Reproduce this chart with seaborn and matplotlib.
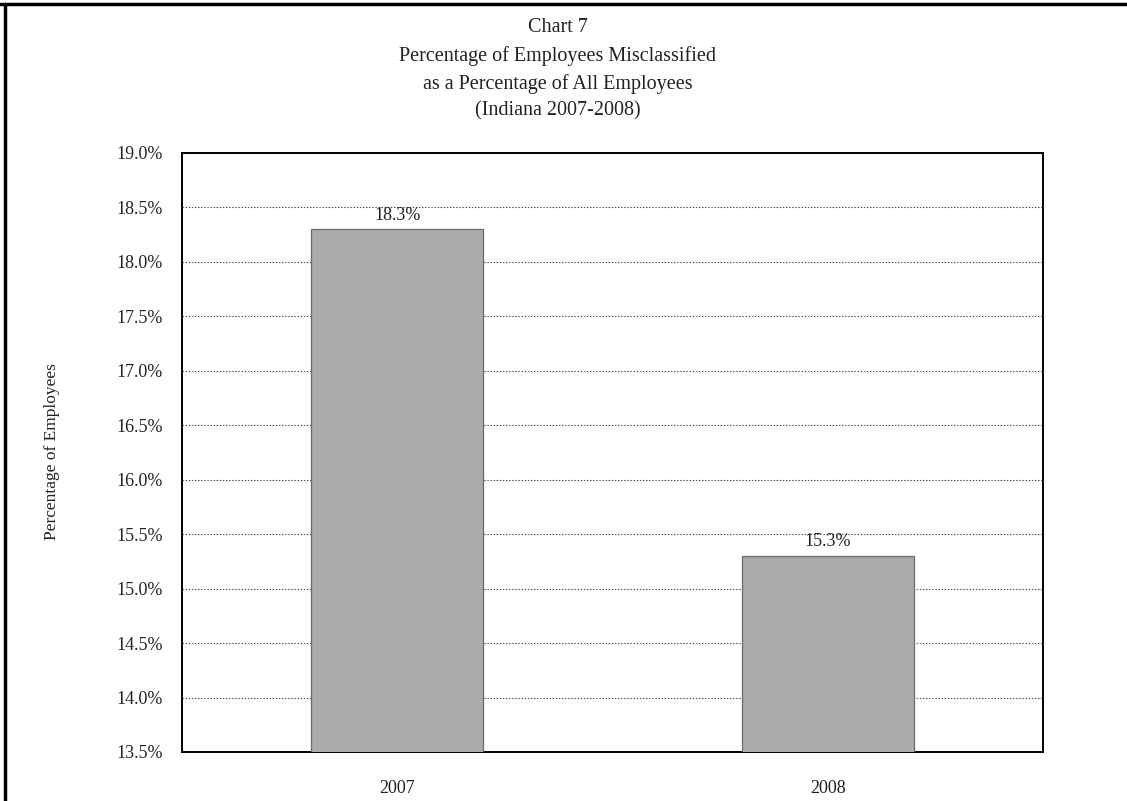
import matplotlib
matplotlib.use("Agg")
import matplotlib.pyplot as plt
from matplotlib.lines import Line2D
from matplotlib.ticker import FuncFormatter, MultipleLocator
import seaborn as sns
import pandas as pd

# Data
years = ["2007", "2008"]
pct_misclassified = [18.3, 15.3]
title_lines = [
    "Chart 7",
    "Percentage of Employees Misclassified",
    "as a Percentage of All Employees",
    "(Indiana 2007-2008)",
]
y_label = "Percentage of Employees"

sns.set_theme(style="white")
plt.rcParams["font.family"] = ["Liberation Serif", "DejaVu Serif"]

W, H = 1127, 801
fig = plt.figure(figsize=(W / 100, H / 100), dpi=100)

# Plot area in pixel coordinates
left, right, top, bottom = 182, 1043, 153, 752
ax = fig.add_axes([left / W, 1 - bottom / H, (right - left) / W, (bottom - top) / H])

df = pd.DataFrame({"year": years, "pct": pct_misclassified})
sns.barplot(data=df, x="year", y="pct", order=years, color="#ababab",
            saturation=1, width=0.4, edgecolor="#6a6a6a", linewidth=0.9,
            ax=ax, zorder=3)

ax.set_ylim(13.5, 19.0)
ax.set_xlim(-0.5, 1.5)
ax.yaxis.set_major_locator(MultipleLocator(0.5))
ax.yaxis.set_major_formatter(FuncFormatter(lambda v, _: f"{v:.1f}%"))
ax.grid(axis="y", color="#444444", linestyle=(0, (1.2, 1.6)), linewidth=0.8, zorder=0)
ax.grid(axis="x", visible=False)
ax.set_axisbelow(True)

for s in ax.spines.values():
    s.set_visible(True)
    s.set_color("black")
    s.set_linewidth(1.4)

ax.tick_params(axis="y", labelsize=13, length=0, pad=14, colors="#222222")
ax.tick_params(axis="x", labelsize=13, length=0, pad=20, colors="#222222")
ax.set_xlabel("")
ax.set_ylabel("")

# Y-axis title
fig.text(52 / W, 1 - 452 / H, y_label, rotation=90, ha="center", va="center",
         fontsize=12.5, color="#222222")

# Value labels above each bar
for container in ax.containers:
    ax.bar_label(container, labels=[f"{v:.1f}%" for v in pct_misclassified],
                 padding=4, fontsize=13, color="#222222")

# Title block
for i, (line, ypx) in enumerate(zip(title_lines, [27, 56, 84, 111])):
    fig.text(0.495, 1 - ypx / H, line, ha="center", va="center",
             fontsize=14.5, color="#222222")

# Page frame
fig.add_artist(Line2D([5 / W, 5 / W], [0, 1 - 4 / H], transform=fig.transFigure,
                      color="black", linewidth=2.5))
fig.add_artist(Line2D([0, 1], [1 - 4 / H, 1 - 4 / H], transform=fig.transFigure,
                      color="black", linewidth=2.5))

fig.savefig("out.png", dpi=100)
